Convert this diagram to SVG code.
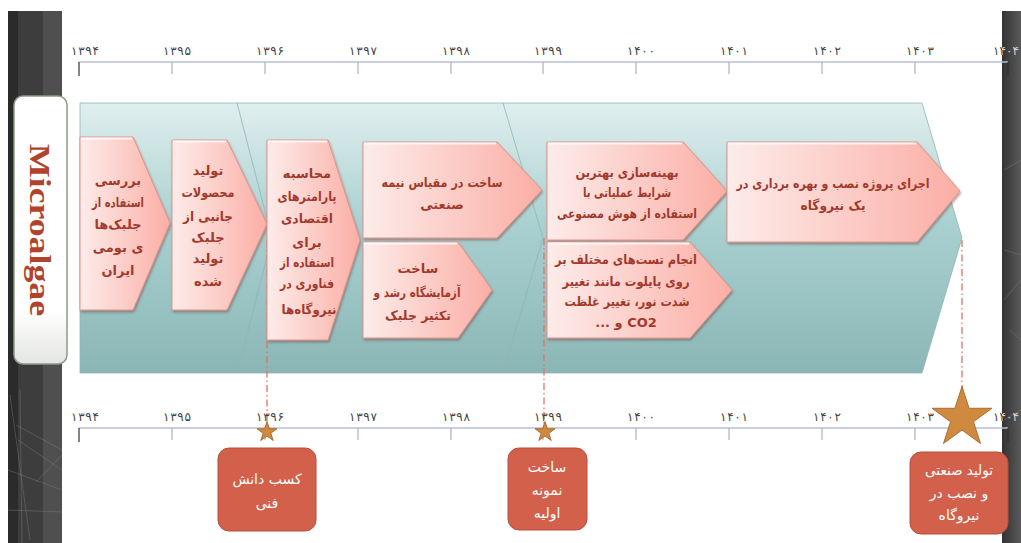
<svg xmlns="http://www.w3.org/2000/svg" width="1021" height="543" viewBox="0 0 1021 543">
<defs>
<linearGradient id="teal" x1="0" y1="0" x2="0" y2="1">
<stop offset="0" stop-color="#e0efee"/>
<stop offset="0.45" stop-color="#a9d0d0"/>
<stop offset="1" stop-color="#8bb6b6"/>
</linearGradient>
<linearGradient id="pink" x1="0" y1="0" x2="1" y2="0">
<stop offset="0" stop-color="#fdecea"/>
<stop offset="1" stop-color="#fbaea5"/>
</linearGradient>
<linearGradient id="whitebox" x1="0" y1="0" x2="0" y2="1">
<stop offset="0" stop-color="#ffffff"/>
<stop offset="0.8" stop-color="#ffffff"/>
<stop offset="1" stop-color="#e4e6e2"/>
</linearGradient>
<linearGradient id="rbar" x1="0" y1="0" x2="1" y2="0">
<stop offset="0" stop-color="#333"/>
<stop offset="1" stop-color="#5a5a5a"/>
</linearGradient>
<filter id="shadow" x="-10%" y="-10%" width="125%" height="125%">
<feDropShadow dx="1" dy="2" stdDeviation="1.2" flood-color="#6a3a36" flood-opacity="0.45"/>
</filter>
<clipPath id="barclip"><rect x="1002" y="0" width="19" height="543"/></clipPath>
<clipPath id="whiteclip"><rect x="0" y="0" width="1002" height="543"/></clipPath>
<path id="star" d="M0,-1 L0.2245,-0.309 L0.9511,-0.309 L0.3633,0.118 L0.5878,0.809 L0,0.382 L-0.5878,0.809 L-0.3633,0.118 L-0.9511,-0.309 L-0.2245,-0.309 Z"/>
</defs>
<style>
.ax{stroke:#b7bfd6;stroke-width:1.5;fill:none}
.tk{stroke:#a9b1c8;stroke-width:1.2}
.tk0{stroke:#333;stroke-width:1.2}
.yr{font-family:"DejaVu Sans",sans-serif;font-size:12px;fill:#444;text-anchor:middle}
.yrl{font-family:"DejaVu Sans",sans-serif;font-size:12px;fill:#d4d4d4;text-anchor:middle}
.panel{fill:url(#teal);stroke:#8fb4b4;stroke-width:0.8}
.box{fill:url(#pink);stroke:#e3938b;stroke-width:1;filter:url(#shadow)}
.hl{stroke:#ffffff;stroke-width:2;stroke-opacity:0.8}
.bt{font-family:"DejaVu Sans",sans-serif;font-size:13px;font-weight:bold;fill:#a3392b;text-anchor:middle}
.dash{stroke:#e07562;stroke-width:1.3;stroke-dasharray:7 3 1.5 3;fill:none}
.st{fill:#cf8a40;stroke:#a8672a}
.co{fill:#d2604a;stroke:#b84f3b;stroke-width:1}
.ct{font-family:"DejaVu Sans",sans-serif;font-size:14px;fill:#ffffff;text-anchor:middle}
.deco{stroke:#8a8a8a;stroke-width:0.8;stroke-opacity:0.45;fill:none}
</style>
<rect x="0" y="0" width="1021" height="543" fill="#ffffff"/>
<g id="left-bar">
<rect x="8" y="11" width="10" height="532" fill="#2b2b2b"/>
<rect x="18" y="11" width="25" height="532" fill="#3d3d3d"/>
<rect x="43" y="11" width="19" height="532" fill="#4f4f4f"/>
<path class="deco" d="M10,395 L30,540 M16,425 L62,450 M18,440 L62,470 M36,482 L62,455 M8,470 L62,490 M8,510 L62,512 M20,390 L22,543"/>
</g>
<g id="right-bar">
<rect x="1002" y="11" width="19" height="532" fill="url(#rbar)"/>
<path class="deco" d="M1004,170 L1021,160 M1004,250 L1021,255 M1004,300 L1021,280 M1004,420 L1021,410 M1010,330 L1021,340"/>
</g>
<g id="top-axis">
<line class="ax" x1="79" y1="62" x2="1008" y2="62"/>
<line class="tk0" x1="79" y1="62" x2="79" y2="76"/>
<line class="tk" x1="172" y1="62" x2="172" y2="74"/>
<line class="tk" x1="265" y1="62" x2="265" y2="74"/>
<line class="tk" x1="358" y1="62" x2="358" y2="74"/>
<line class="tk" x1="451" y1="62" x2="451" y2="74"/>
<line class="tk" x1="543" y1="62" x2="543" y2="74"/>
<line class="tk" x1="636" y1="62" x2="636" y2="74"/>
<line class="tk" x1="729" y1="62" x2="729" y2="74"/>
<line class="tk" x1="822" y1="62" x2="822" y2="74"/>
<line class="tk" x1="915" y1="62" x2="915" y2="74"/>
<line class="tk0" x1="1008" y1="62" x2="1008" y2="76"/>
<text class="yr" x="85" y="55" textLength="28">۱۳۹۴</text>
<text class="yr" x="177" y="55" textLength="28">۱۳۹۵</text>
<text class="yr" x="270" y="55" textLength="28">۱۳۹۶</text>
<text class="yr" x="363" y="55" textLength="28">۱۳۹۷</text>
<text class="yr" x="456" y="55" textLength="28">۱۳۹۸</text>
<text class="yr" x="548" y="55" textLength="28">۱۳۹۹</text>
<text class="yr" x="641" y="55" textLength="28">۱۴۰۰</text>
<text class="yr" x="734" y="55" textLength="28">۱۴۰۱</text>
<text class="yr" x="827" y="55" textLength="28">۱۴۰۲</text>
<text class="yr" x="920" y="55" textLength="28">۱۴۰۳</text>
<text class="yr" x="1006" y="55" textLength="26" clip-path="url(#whiteclip)">۱۴۰۴</text>
<text class="yrl" x="1006" y="55" textLength="26" clip-path="url(#barclip)">۱۴۰۴</text>
</g>
<g id="label-microalgae">
<rect x="14" y="96" width="53" height="268" rx="9" fill="url(#whitebox)" stroke="#8c9c88" stroke-width="1.5"/>
<text x="0" y="0" transform="translate(40,230) rotate(90)" font-family="'Liberation Serif',serif" font-size="29" font-weight="bold" fill="#b0432c" text-anchor="middle" dominant-baseline="central" textLength="172" lengthAdjust="spacingAndGlyphs">Microalgae</text>
</g>
<g id="panel">
<polygon class="panel" points="503,103 922,103 962,238 922,373 503,373"/>
<polygon class="panel" points="237,103 503,103 543,238 503,373 237,373"/>
<polygon class="panel" points="80,103 237,103 272,238 237,373 80,373"/>
</g>
<g id="connectors">
<line class="dash" x1="267" y1="240" x2="267" y2="424"/>
<line class="dash" x1="544" y1="238" x2="544" y2="424"/>
<line class="dash" x1="962" y1="240" x2="962" y2="390"/>
</g>
<g id="box-a">
<polygon class="box" points="80,137 133,137 170,223 133,310 80,310"/>
<line class="hl" x1="81" y1="138.5" x2="132" y2="138.5"/>
<text class="bt" direction="rtl" x="118" y="185">بررسی</text>
<text class="bt" direction="rtl" x="118" y="207" textLength="52" lengthAdjust="spacingAndGlyphs">استفاده از</text>
<text class="bt" direction="rtl" x="118" y="229">جلبک‌ها</text>
<text class="bt" direction="rtl" x="118" y="252">ی بومی</text>
<text class="bt" direction="rtl" x="118" y="275">ایران</text>
</g>
<g id="box-b">
<polygon class="box" points="172,140 227,140 267,224 227,310 172,310"/>
<line class="hl" x1="173" y1="141.5" x2="226" y2="141.5"/>
<text class="bt" direction="rtl" x="208" y="175">تولید</text>
<text class="bt" direction="rtl" x="208" y="197" textLength="53" lengthAdjust="spacingAndGlyphs">محصولات</text>
<text class="bt" direction="rtl" x="208" y="221" textLength="50" lengthAdjust="spacingAndGlyphs">جانبی از</text>
<text class="bt" direction="rtl" x="208" y="242">جلبک</text>
<text class="bt" direction="rtl" x="208" y="263">تولید</text>
<text class="bt" direction="rtl" x="208" y="286">شده</text>
</g>
<g id="box-c">
<polygon class="box" points="267,140 328,140 360,240 328,340 267,340"/>
<line class="hl" x1="268" y1="141.5" x2="327" y2="141.5"/>
<text class="bt" direction="rtl" x="307" y="178">محاسبه</text>
<text class="bt" direction="rtl" x="307" y="201" textLength="59" lengthAdjust="spacingAndGlyphs">پارامترهای</text>
<text class="bt" direction="rtl" x="307" y="223" textLength="52" lengthAdjust="spacingAndGlyphs">اقتصادی</text>
<text class="bt" direction="rtl" x="307" y="247">برای</text>
<text class="bt" direction="rtl" x="307" y="267" textLength="54" lengthAdjust="spacingAndGlyphs">استفاده از</text>
<text class="bt" direction="rtl" x="307" y="288" textLength="54" lengthAdjust="spacingAndGlyphs">فناوری در</text>
<text class="bt" direction="rtl" x="309" y="314" textLength="55" lengthAdjust="spacingAndGlyphs">نیروگاه‌ها</text>
</g>
<g id="box-d">
<polygon class="box" points="363,142 497,142 542,190 497,238 363,238"/>
<line class="hl" x1="364" y1="143.5" x2="496" y2="143.5"/>
<text class="bt" direction="rtl" x="442" y="187" textLength="121" lengthAdjust="spacingAndGlyphs">ساخت در مقیاس نیمه</text>
<text class="bt" direction="rtl" x="442" y="209">صنعتی</text>
</g>
<g id="box-e">
<polygon class="box" points="363,242 458,242 492,290 458,338 363,338"/>
<line class="hl" x1="364" y1="243.5" x2="457" y2="243.5"/>
<text class="bt" direction="rtl" x="418" y="273">ساخت</text>
<text class="bt" direction="rtl" x="417" y="297" textLength="87" lengthAdjust="spacingAndGlyphs">آزمایشگاه رشد و</text>
<text class="bt" direction="rtl" x="418" y="320" textLength="66" lengthAdjust="spacingAndGlyphs">تکثیر جلبک</text>
</g>
<g id="box-f">
<polygon class="box" points="547,142 683,142 727,191 683,240 547,240"/>
<line class="hl" x1="548" y1="143.5" x2="682" y2="143.5"/>
<text class="bt" direction="rtl" x="627" y="177" textLength="103" lengthAdjust="spacingAndGlyphs">بهینه‌سازی بهترین</text>
<text class="bt" direction="rtl" x="627" y="197" textLength="88" lengthAdjust="spacingAndGlyphs">شرایط عملیاتی با</text>
<text class="bt" direction="rtl" x="627" y="218" textLength="140" lengthAdjust="spacingAndGlyphs">استفاده از هوش مصنوعی</text>
</g>
<g id="box-g">
<polygon class="box" points="547,242 690,242 732,290 690,338 547,338"/>
<line class="hl" x1="548" y1="243.5" x2="689" y2="243.5"/>
<text class="bt" direction="rtl" x="626" y="264" textLength="142" lengthAdjust="spacingAndGlyphs">انجام تست‌های مختلف بر</text>
<text class="bt" direction="rtl" x="626" y="286" textLength="127" lengthAdjust="spacingAndGlyphs">روی پایلوت مانند تغییر</text>
<text class="bt" direction="rtl" x="627" y="306" textLength="125" lengthAdjust="spacingAndGlyphs">شدت نور، تغییر غلظت</text>
<text class="bt" direction="rtl" x="626" y="327">CO2 و ...</text>
</g>
<g id="box-h">
<polygon class="box" points="727,142 917,142 960,191 917,242 727,242"/>
<line class="hl" x1="728" y1="143.5" x2="916" y2="143.5"/>
<text class="bt" direction="rtl" x="833" y="188" textLength="193" lengthAdjust="spacingAndGlyphs">اجرای پروژه نصب و بهره برداری در</text>
<text class="bt" direction="rtl" x="833" y="210" textLength="65" lengthAdjust="spacingAndGlyphs">یک نیروگاه</text>
</g>
<g id="bottom-axis">
<line class="ax" x1="79" y1="428" x2="1008" y2="428"/>
<line class="tk0" x1="79" y1="428" x2="79" y2="442"/>
<line class="tk" x1="172" y1="428" x2="172" y2="440"/>
<line class="tk" x1="265" y1="428" x2="265" y2="440"/>
<line class="tk" x1="358" y1="428" x2="358" y2="440"/>
<line class="tk" x1="451" y1="428" x2="451" y2="440"/>
<line class="tk" x1="543" y1="428" x2="543" y2="440"/>
<line class="tk" x1="636" y1="428" x2="636" y2="440"/>
<line class="tk" x1="729" y1="428" x2="729" y2="440"/>
<line class="tk" x1="822" y1="428" x2="822" y2="440"/>
<line class="tk" x1="915" y1="428" x2="915" y2="440"/>
<line class="tk0" x1="1008" y1="428" x2="1008" y2="442"/>
<text class="yr" x="85" y="421" textLength="28">۱۳۹۴</text>
<text class="yr" x="177" y="421" textLength="28">۱۳۹۵</text>
<text class="yr" x="270" y="421" textLength="28">۱۳۹۶</text>
<text class="yr" x="363" y="421" textLength="28">۱۳۹۷</text>
<text class="yr" x="456" y="421" textLength="28">۱۳۹۸</text>
<text class="yr" x="548" y="421" textLength="28">۱۳۹۹</text>
<text class="yr" x="641" y="421" textLength="28">۱۴۰۰</text>
<text class="yr" x="734" y="421" textLength="28">۱۴۰۱</text>
<text class="yr" x="827" y="421" textLength="28">۱۴۰۲</text>
<text class="yr" x="920" y="421" textLength="28">۱۴۰۳</text>
<text class="yr" x="1006" y="421" textLength="26" clip-path="url(#whiteclip)">۱۴۰۴</text>
<text class="yrl" x="1006" y="421" textLength="26" clip-path="url(#barclip)">۱۴۰۴</text>
</g>
<g id="star-1"><use href="#star" class="st" transform="translate(267,432) scale(10.5)" style="stroke-width:0.09"/></g>
<g id="star-2"><use href="#star" class="st" transform="translate(545,432) scale(10.5)" style="stroke-width:0.09"/></g>
<g id="star-3"><use href="#star" class="st" transform="translate(962,418) scale(31.5)" style="stroke-width:0.03"/></g>
<g id="callout-1">
<rect class="co" x="218" y="448" width="98" height="83" rx="11"/>
<text class="ct" direction="rtl" x="267" y="484">کسب دانش</text>
<text class="ct" direction="rtl" x="267" y="508">فنی</text>
</g>
<g id="callout-2">
<rect class="co" x="508" y="448" width="79" height="82" rx="11"/>
<text class="ct" direction="rtl" x="547" y="472">ساخت</text>
<text class="ct" direction="rtl" x="547" y="495">نمونه</text>
<text class="ct" direction="rtl" x="547" y="518">اولیه</text>
</g>
<g id="callout-3">
<rect class="co" x="910" y="452" width="98" height="82" rx="11"/>
<text class="ct" direction="rtl" x="959" y="475" textLength="68" lengthAdjust="spacingAndGlyphs">تولید صنعتی</text>
<text class="ct" direction="rtl" x="959" y="498">و نصب در</text>
<text class="ct" direction="rtl" x="959" y="520">نیروگاه</text>
</g>
</svg>
